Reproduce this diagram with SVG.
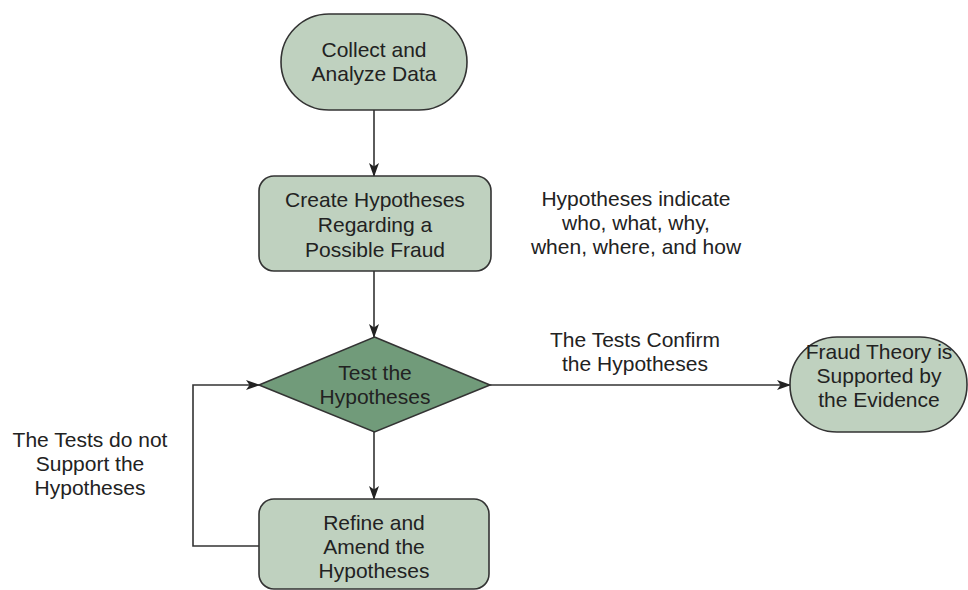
<svg xmlns="http://www.w3.org/2000/svg" width="968" height="590" viewBox="0 0 968 590">
  <style>
    .box { fill: #bfd1bf; stroke: #333333; stroke-width: 1.6; }
    .decision { fill: #719b7a; stroke: #333333; stroke-width: 1.6; }
    .edge { fill: none; stroke: #333333; stroke-width: 1.6; }
    text { font-family: "Liberation Sans", Arial, Helvetica, sans-serif; font-size: 21px; fill: #222222; text-anchor: middle; }
  </style>
  <defs>
    <marker id="arrow" markerWidth="14" markerHeight="10" refX="13" refY="5" orient="auto" markerUnits="userSpaceOnUse">
      <path d="M0,0 L14,5 L0,10 L3.5,5 z" fill="#222222"/>
    </marker>
  </defs>

  <rect width="968" height="590" fill="#ffffff"/>

  <g id="connectors">
    <line class="edge" x1="374" y1="110" x2="374" y2="176" marker-end="url(#arrow)"/>
    <line class="edge" x1="374" y1="271" x2="374" y2="337" marker-end="url(#arrow)"/>
    <line class="edge" x1="374" y1="432" x2="374" y2="499" marker-end="url(#arrow)"/>
    <polyline class="edge" points="259,546 193,546 193,385 259,385" marker-end="url(#arrow)"/>
    <line class="edge" x1="490" y1="385" x2="790" y2="385" marker-end="url(#arrow)"/>
  </g>

  <g id="collect">
    <rect class="box" x="281" y="14" width="186" height="96" rx="48" ry="48"/>
    <text x="374" y="57">Collect and</text>
    <text x="374" y="81">Analyze Data</text>
  </g>

  <g id="create">
    <rect class="box" x="259" y="176" width="232" height="95" rx="15" ry="15"/>
    <text x="375" y="207">Create Hypotheses</text>
    <text x="375" y="232">Regarding a</text>
    <text x="375" y="257">Possible Fraud</text>
  </g>

  <g id="test">
    <polygon class="decision" points="374.5,337 490,385 374.5,432 259,385"/>
    <text x="375" y="380">Test the</text>
    <text x="375" y="404">Hypotheses</text>
  </g>

  <g id="refine">
    <rect class="box" x="259" y="499" width="230" height="90" rx="15" ry="15"/>
    <text x="374" y="530">Refine and</text>
    <text x="374" y="554">Amend the</text>
    <text x="374" y="578">Hypotheses</text>
  </g>

  <g id="supported">
    <rect class="box" x="790" y="337" width="177" height="95" rx="47" ry="47"/>
    <text x="879" y="359">Fraud Theory is</text>
    <text x="879" y="383">Supported by</text>
    <text x="879" y="407">the Evidence</text>
  </g>

  <g id="note-hypotheses">
    <text x="636" y="206">Hypotheses indicate</text>
    <text x="636" y="230">who, what, why,</text>
    <text x="636" y="254">when, where, and how</text>
  </g>

  <g id="label-confirm">
    <text x="635" y="347">The Tests Confirm</text>
    <text x="635" y="371">the Hypotheses</text>
  </g>

  <g id="label-not-support">
    <text x="90" y="447">The Tests do not</text>
    <text x="90" y="471">Support the</text>
    <text x="90" y="495">Hypotheses</text>
  </g>
</svg>
